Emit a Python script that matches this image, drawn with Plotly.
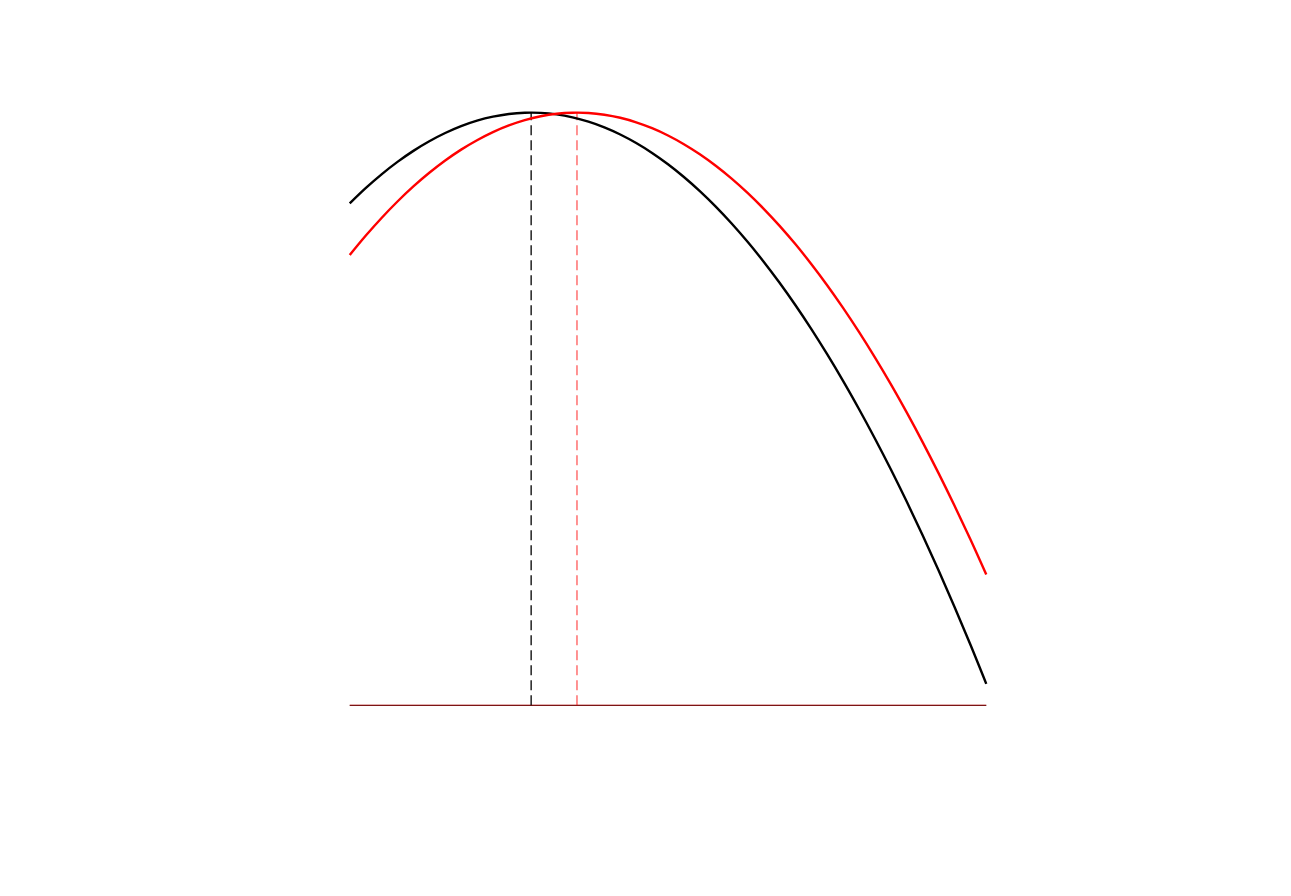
import plotly.graph_objects as go

x_vals = [0.000, 0.025, 0.050, 0.075, 0.100, 0.125, 0.150, 0.175, 0.200, 0.225,
          0.250, 0.275, 0.300, 0.325, 0.350, 0.375, 0.400, 0.425, 0.450, 0.475,
          0.500, 0.525, 0.550, 0.575, 0.600, 0.625, 0.650, 0.675, 0.700, 0.725,
          0.750, 0.775, 0.800, 0.825, 0.850, 0.875, 0.900, 0.925, 0.950, 0.975, 1.000]
black_vals = [0.8469, 0.8726, 0.8959, 0.9169, 0.9355, 0.9517, 0.9656, 0.9772, 0.9864, 0.9932,
              0.9977, 0.9998, 0.9996, 0.9970, 0.9920, 0.9847, 0.9751, 0.9631, 0.9487, 0.9320,
              0.9129, 0.8914, 0.8676, 0.8415, 0.8130, 0.7821, 0.7489, 0.7133, 0.6754, 0.6351,
              0.5924, 0.5474, 0.5000, 0.4503, 0.3983, 0.3438, 0.2870, 0.2279, 0.1664, 0.1026, 0.0363]
red_vals = [0.7598, 0.7922, 0.8223, 0.8501, 0.8755, 0.8985, 0.9192, 0.9376, 0.9535, 0.9672,
            0.9784, 0.9873, 0.9939, 0.9981, 0.9999, 0.9994, 0.9965, 0.9913, 0.9837, 0.9738,
            0.9615, 0.9468, 0.9298, 0.9104, 0.8887, 0.8646, 0.8382, 0.8094, 0.7782, 0.7447,
            0.7089, 0.6706, 0.6301, 0.5871, 0.5419, 0.4942, 0.4442, 0.3918, 0.3371, 0.2801, 0.2206]
black_peak_x = 0.285
red_peak_x = 0.357
peak_y = 1.0
base_y = 0.0

fig = go.Figure()
# baseline
fig.add_trace(go.Scatter(x=[x_vals[0], x_vals[-1]], y=[base_y, base_y], mode="lines",
                         line=dict(color="black", width=1), hoverinfo="skip"))
fig.add_trace(go.Scatter(x=[x_vals[0], x_vals[-1]], y=[base_y, base_y], mode="lines",
                         line=dict(color="rgba(255,0,0,0.4)", width=1.5), hoverinfo="skip"))
# dashed verticals
fig.add_trace(go.Scatter(x=[black_peak_x, black_peak_x], y=[base_y, peak_y], mode="lines",
                         line=dict(color="black", width=1.3, dash="10px,5px")))
fig.add_trace(go.Scatter(x=[red_peak_x, red_peak_x], y=[base_y, peak_y], mode="lines",
                         line=dict(color="rgba(255,0,0,0.65)", width=1.3, dash="10px,5px")))
# curves
fig.add_trace(go.Scatter(x=x_vals, y=black_vals, mode="lines",
                         line=dict(color="black", width=2.4, shape="spline", smoothing=1)))
fig.add_trace(go.Scatter(x=x_vals, y=red_vals, mode="lines",
                         line=dict(color="red", width=2.4, shape="spline", smoothing=1)))

fig.update_layout(
    width=1291, height=896,
    margin=dict(l=329, r=300, t=75, b=169),
    showlegend=False,
    plot_bgcolor="white", paper_bgcolor="white",
    xaxis=dict(range=[-0.02, 1.02], visible=False),
    yaxis=dict(range=[-0.05, 1.05], visible=False),
)
fig.write_html("out.html")
